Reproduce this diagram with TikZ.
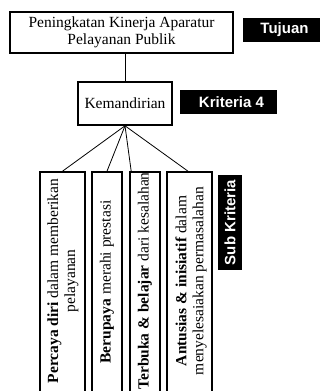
\documentclass[tikz,border=0pt]{standalone}
\usepackage{fontspec}
\setmainfont{Liberation Serif}
\newfontfamily\tagfont{Liberation Sans}
\begin{document}
\begin{tikzpicture}[x=1pt,y=-1pt,
  box/.style={draw, line width=1.6pt, inner sep=0pt},
  txt/.style={font=\fontsize{15.5}{17}\selectfont, align=center, inner sep=0pt},
  tag/.style={fill=black, text=white, font=\tagfont\bfseries\fontsize{15}{17}\selectfont, inner sep=0pt},
  link/.style={line width=0.8pt}]
\useasboundingbox (0,0) rectangle (330,391);
\clip (0,0) rectangle (330,391);
% main boxes
\node[box, txt, minimum width=223pt, minimum height=41pt] (goal) at (121.5,32.5) {Peningkatan Kinerja Aparatur\\Pelayanan Publik};
\node[box, txt, minimum width=94pt, minimum height=43pt] (kem) at (125,103.5) {Kemandirian};
% sub boxes (run off the bottom edge)
\node[box, minimum width=45pt, minimum height=224pt] (b1) at (62.5,284) {};
\node[box, minimum width=30pt, minimum height=224pt] (b2) at (107,284) {};
\node[box, minimum width=30pt, minimum height=224pt] (b3) at (145,284) {};
\node[box, minimum width=45pt, minimum height=224pt] (b4) at (189.5,284) {};
\node[txt, rotate=90] (t1) at (63,281) {\textbf{Percaya diri} dalam memberikan\\pelayanan};
\node[txt, rotate=90] (t2) at (107,282) {\textbf{Berupaya} merahi prestasi};
\node[txt, rotate=90] (t3) at (145,281) {\textbf{Terbuka \& belajar} dari kesalahan};
\node[txt, rotate=90] (t4) at (191,281) {\textbf{Antusias \& inisiatif} dalam\\menyelesaiakan permasalahan};
% connectors
\draw[link] (goal.south -| kem.north) -- (kem.north);
\draw[link] (kem.south) -- (b1.north);
\draw[link] (kem.south) -- (b2.north);
\draw[link] (kem.south) -- ([xshift=2pt]b3.north west);
\draw[link] (kem.south) -- ([xshift=-1.5pt]b4.north);
% tags
\node[tag, minimum width=77pt, minimum height=24pt] (tuj) at (281.5,30) {\hspace{6pt}Tujuan};
\node[tag, minimum width=97pt, minimum height=24pt] (kri) at (228.5,102) {\hspace{6pt}Kriteria 4};
\node[tag, rotate=90, minimum width=95pt, minimum height=24pt] (sub) at (230,222.5) {Sub Kriteria};
\end{tikzpicture}
\end{document}
